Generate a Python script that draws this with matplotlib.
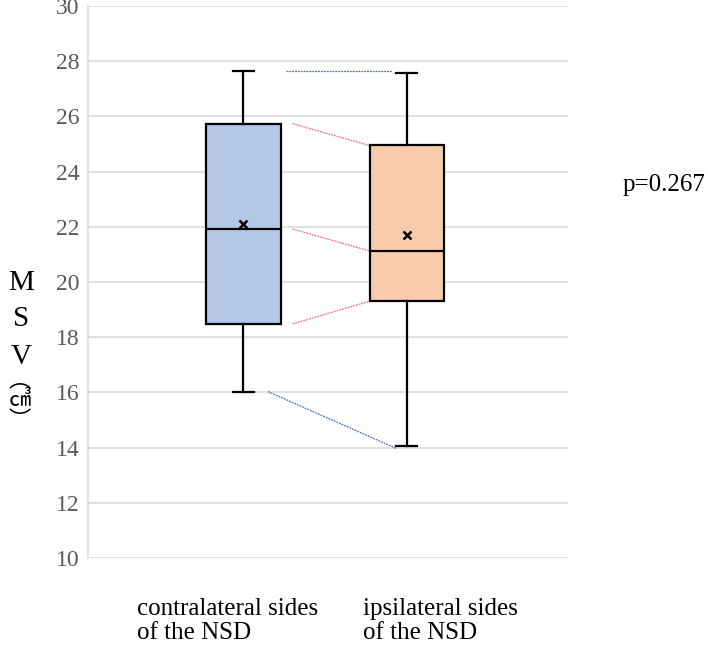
import matplotlib
matplotlib.use("Agg")
import matplotlib.pyplot as plt

# box statistics
labels = ["contralateral sides\nof the NSD", "ipsilateral sides\nof the NSD"]
whislo = [16.03, 14.06]
q1 = [18.48, 19.30]
med = [21.92, 21.13]
mean = [22.10, 21.69]
q3 = [25.74, 24.95]
whishi = [27.63, 27.56]
fills = ["#B4C7E7", "#F8CBAD"]

positions = [1, 2]

fig = plt.figure(figsize=(7.08, 6.48), dpi=100)
ax = fig.add_axes([0.1236, 0.1389, 0.6784, 0.8518])

stats = []
for i in range(2):
    stats.append(dict(label=labels[i], whislo=whislo[i], q1=q1[i], med=med[i],
                      q3=q3[i], whishi=whishi[i], mean=mean[i], fliers=[]))

bp = ax.bxp(stats, positions=positions, widths=0.455, patch_artist=True,
            showmeans=True, showfliers=False,
            boxprops=dict(edgecolor="black", linewidth=1.6),
            medianprops=dict(color="black", linewidth=1.6),
            whiskerprops=dict(color="black", linewidth=1.6),
            capprops=dict(color="black", linewidth=1.6),
            meanprops=dict(marker="x", markeredgecolor="black",
                           markersize=6, markeredgewidth=1.8),
            capwidths=0.13, zorder=3)
for patch, c in zip(bp["boxes"], fills):
    patch.set_facecolor(c)

# dotted connectors between the two boxes
ax.plot([1.26, 1.91], [whishi[0], whishi[1] + 0.07], color="#4472C4",
        linestyle=(0, (1.5, 0.8)), linewidth=0.9, zorder=2)
ax.plot([1.15, 1.94], [whislo[0], whislo[1] - 0.1], color="#4472C4",
        linestyle=(0, (1.5, 0.8)), linewidth=0.9, zorder=2)
for a, b in [(q3[0], q3[1]), (med[0], med[1]), (q1[0], q1[1])]:
    ax.plot([1.30, 1.77], [a, b], color="#F07080",
            linestyle=(0, (1.5, 0.8)), linewidth=0.9, zorder=2)

ax.set_ylim(10, 30)
ax.set_xlim(0.044, 2.988)
ax.set_yticks(range(10, 31, 2))
ax.set_xticks([])
ax.yaxis.grid(True, color="#D9D9D9", linewidth=1.1, zorder=0)
ax.set_axisbelow(True)
for s in ["top", "right", "bottom"]:
    ax.spines[s].set_visible(False)
ax.spines["left"].set_color("#D9D9D9")
ax.spines["left"].set_linewidth(1.1)
ax.tick_params(axis="y", length=0, pad=6, labelsize=17, labelcolor="#595959")
for t in ax.get_yticklabels():
    t.set_fontfamily("Liberation Serif")

# category labels under the plot
for x, lab in zip([137, 363], labels):
    fig.text(x / 708, 1 - 598 / 648, lab, ha="left", va="top",
             fontsize=18, family="Liberation Serif", linespacing=1.1)

fig.text(623 / 708, 1 - 185 / 648, "p=0.267", ha="left", va="center",
         fontsize=18, family="Liberation Serif")

# vertical y label
for ch, yy in zip(["M", "S", "V"], [283, 319, 357]):
    fig.text(21 / 708, 1 - yy / 648, ch, ha="center", va="center",
             fontsize=21, family="Liberation Serif")
fig.text(20 / 708, 1 - 400 / 648, "︵\n㎤\n︶", ha="center", va="center",
         fontsize=16, linespacing=0.85, family=["Noto Sans CJK JP", "DejaVu Sans"])

fig.savefig("out.png", dpi=100)
